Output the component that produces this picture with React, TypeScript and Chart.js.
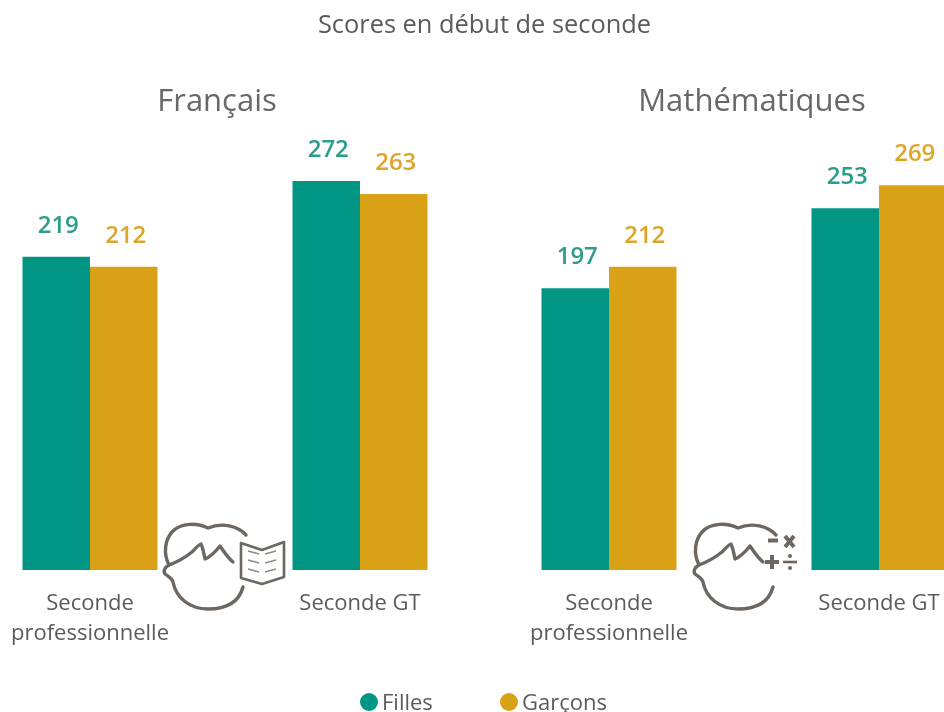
import React, { useEffect, useRef } from "react";
import { Chart, registerables } from "chart.js";

Chart.register(...registerables);

const pageTitle = "Scores en début de seconde";
const categories = [["Seconde", "professionnelle"], "Seconde GT"];
const seriesNames = ["Filles", "Garçons"];
const francaisFilles = [219, 272];
const francaisGarcons = [212, 263];
const mathsFilles = [197, 253];
const mathsGarcons = [212, 269];

const TEAL = "#009683";
const GOLD = "#d9a116";
const TEAL_TEXT = "#2a9d8c";
const GOLD_TEXT = "#dca62c";
const TEXT = "#5c5a5a";
const FONT = "'Open Sans', sans-serif";

const valueLabels = {
  id: "valueLabels",
  afterDatasetsDraw(chart: any) {
    const ctx = chart.ctx;
    ctx.save();
    ctx.textAlign = "center";
    ctx.textBaseline = "middle";
    ctx.font = `600 24px ${FONT}`;
    chart.data.datasets.forEach((ds: any, i: number) => {
      chart.getDatasetMeta(i).data.forEach((bar: any, j: number) => {
        ctx.fillStyle = i === 0 ? TEAL_TEXT : GOLD_TEXT;
        ctx.fillText(String(ds.data[j]), bar.x + 2, bar.y - 31);
      });
    });
    ctx.restore();
  },
};

function Panel({ title, filles, garcons, left, width, axisSide }: any) {
  const ref = useRef<HTMLCanvasElement>(null);
  useEffect(() => {
    const chart = new Chart(ref.current!, {
      type: "bar",
      data: {
        labels: categories as any,
        datasets: [
          { label: seriesNames[0], data: filles, backgroundColor: TEAL, barPercentage: 1, categoryPercentage: 0.5 },
          { label: seriesNames[1], data: garcons, backgroundColor: GOLD, barPercentage: 1, categoryPercentage: 0.5 },
        ],
      },
      options: {
        responsive: false,
        animation: false,
        layout: { padding: 0 },
        plugins: {
          legend: { display: false },
          tooltip: { enabled: false },
          title: {
            display: true,
            text: title,
            color: "#6a6866",
            font: { family: FONT, size: 31, weight: "500" as any, lineHeight: 1.2 },
            padding: { top: 84, bottom: 19.8 },
          },
        },
        scales: {
          x: {
            grid: { display: false },
            border: { display: false },
            afterFit: (s: any) => { s.height = 90; },
            ticks: {
              color: TEXT,
              autoSkip: false,
              maxRotation: 0,
              padding: 11,
              font: { family: FONT, size: 22, lineHeight: 30 / 22 },
            },
          },
          y: {
            position: axisSide,
            min: 0,
            max: 300,
            grid: { display: false },
            border: { display: false },
            ticks: { display: false },
            afterFit: (s: any) => { s.width = 16; },
          },
        },
      },
      plugins: [valueLabels],
    });
    return () => chart.destroy();
  }, []);
  return (
    <canvas
      ref={ref}
      width={width}
      height={660}
      style={{ position: "absolute", left, top: 0, display: "block" }}
    />
  );
}

function Head({ dx = 0 }: { dx?: number }) {
  return (
    <g transform={`translate(${dx},0)`} fill="none" stroke="#6e6660" strokeWidth={3.4} strokeLinecap="round" strokeLinejoin="round">
      <path d="M246 535 C238 526 222 522 208 528 C198 523 181 522 172 532 C165 540 163 553 169 565" />
      <path d="M169 565 C180 561 187 556 192 552 C195 549 198 545 201 544 C203 548 204 554 205 559 C210 557 216 551 220 546 C224 552 228 558 233 562" />
      <path d="M169 565 C165 567 163 571 165 574 C169 577 172 578 173 582 C176 598 190 609 208 609 C226 609 239 602 243 587" />
    </g>
  );
}

function Icons() {
  const rows = [554, 563, 572];
  return (
    <svg width={944} height={712} style={{ position: "absolute", left: 0, top: 0 }}>
      <Head />
      <g fill="none" stroke="#6e6660" strokeWidth={2.6} strokeLinejoin="round">
        <path d="M241 543 L262 550 L284 542 L284 577 L262 584 L241 578 Z" />
      </g>
      <g fill="none" stroke="#8d8a88" strokeWidth={1.4}>
        {rows.map((y) => (
          <g key={y}>
            <path d={`M248 ${y - 3} L259 ${y}`} />
            <path d={`M265 ${y} L276 ${y - 3}`} />
          </g>
        ))}
      </g>
      <Head dx={530} />
      <g fill="none" stroke="#6e6660" strokeWidth={4}>
        <path d="M768 540.5 L778 540.5" />
        <path d="M785 536 L794 547 M794 536 L785 547" />
        <path d="M765 562 L779 562 M772 555 L772 569" />
        <path d="M783 562 L797 562" strokeWidth={2.6} />
      </g>
      <circle cx={790} cy={556} r={2} fill="#6e6660" />
      <circle cx={790} cy={568} r={2} fill="#6e6660" />
    </svg>
  );
}

export default function App() {
  const textStyle = { position: "absolute" as const, fontFamily: FONT, color: TEXT, whiteSpace: "nowrap" as const };
  return (
    <div style={{ position: "fixed", left: 0, top: 0, width: 944, height: 712, overflow: "hidden", background: "#fff" }}>
      <Panel title="Français" filles={francaisFilles} garcons={francaisGarcons} left={-61} width={556} axisSide="left" />
      <Panel title="Mathématiques" filles={mathsFilles} garcons={mathsGarcons} left={474} width={556} axisSide="right" />
      <Icons />
      <div style={{ ...textStyle, left: 0, width: 969, textAlign: "center", top: 7, fontSize: 25.4, fontWeight: 500, lineHeight: "32px" }}>{pageTitle}</div>
      <span style={{ position: "absolute", left: 360, top: 693, width: 18, height: 18, borderRadius: 9, background: TEAL }} />
      <div style={{ ...textStyle, left: 382, top: 686, fontSize: 22, lineHeight: "30px" }}>{seriesNames[0]}</div>
      <span style={{ position: "absolute", left: 500, top: 693, width: 18, height: 18, borderRadius: 9, background: GOLD }} />
      <div style={{ ...textStyle, left: 522, top: 686, fontSize: 22, lineHeight: "30px" }}>{seriesNames[1]}</div>
    </div>
  );
}
